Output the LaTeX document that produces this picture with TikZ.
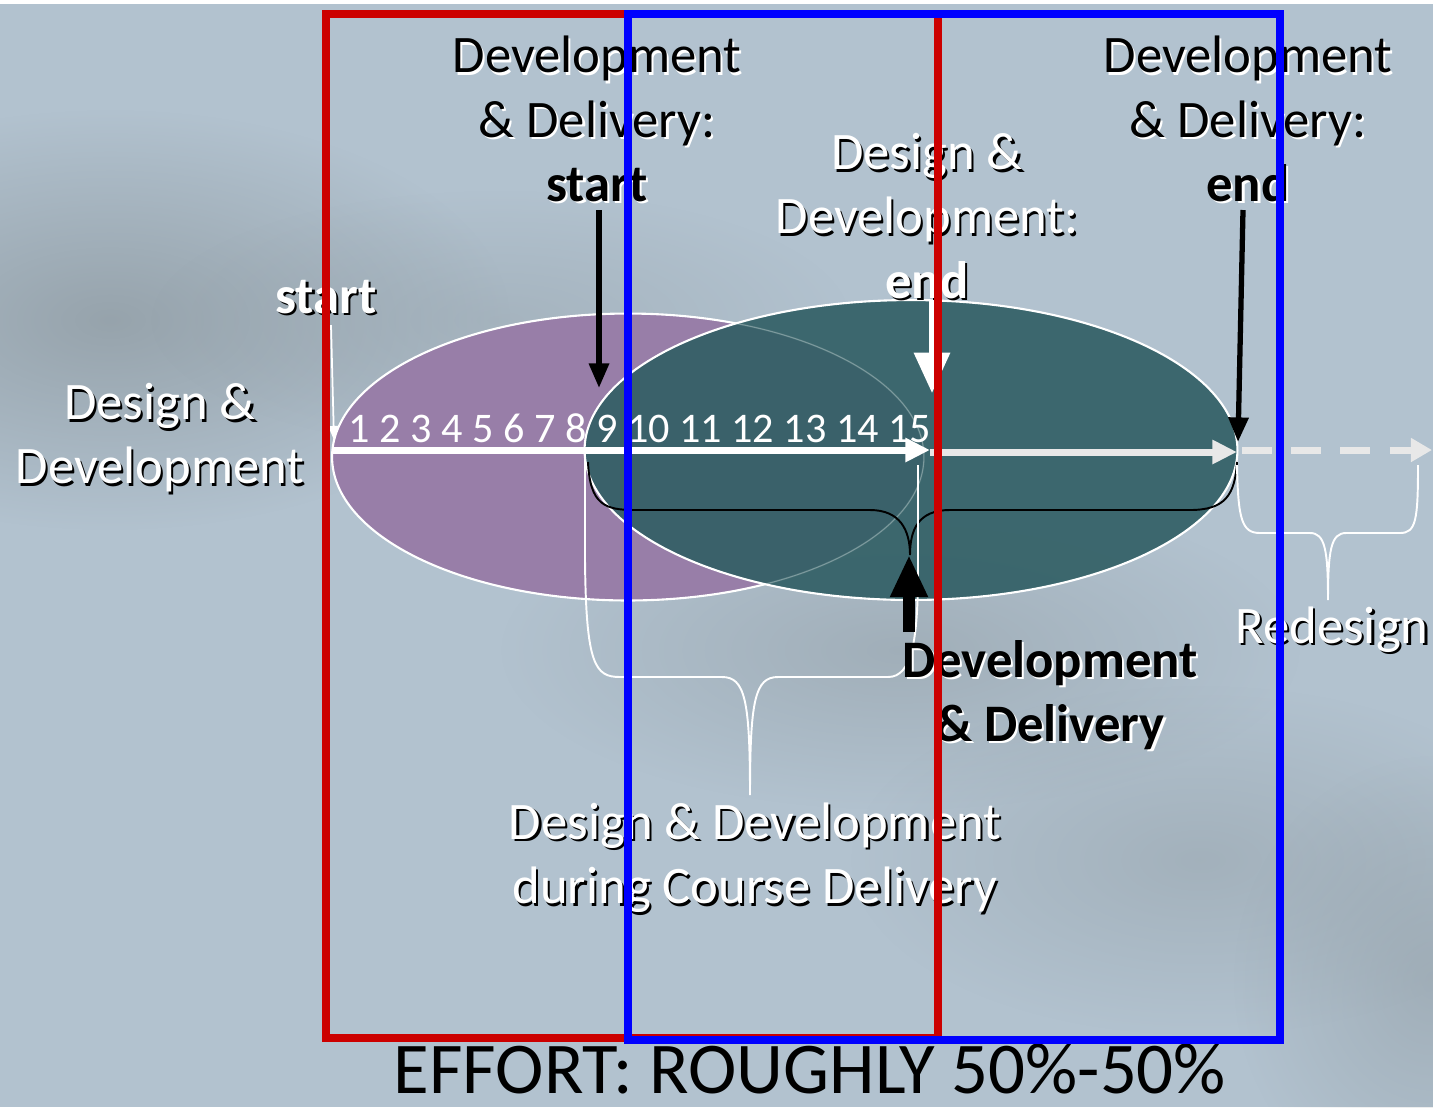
\documentclass[tikz,border=0pt]{standalone}
\usepackage{fontspec}
\setmainfont{Carlito}
\usetikzlibrary{arrows.meta,calc,fadings}
\definecolor{bgc}{RGB}{178,194,207}
\definecolor{smudge}{RGB}{128,138,143}
\definecolor{purp}{RGB}{152,126,168}
\definecolor{teal1}{RGB}{48,94,100}
\definecolor{lgray}{RGB}{232,232,232}
\definecolor{rline}{RGB}{204,0,0}
\definecolor{bline}{RGB}{0,0,255}
\tikzfading[name=fuzzyb, inner color=transparent!0, outer color=transparent!100]
\tikzset{
  lbl/.style={font=\fontsize{30}{36.5}\selectfont, align=center, inner sep=0pt},
  nums/.style={font=\fontsize{24}{28}\selectfont, inner sep=0pt, text=white},
  bigtxt/.style={font=\fontsize{41.5}{48}\selectfont, inner sep=0pt, text=black},
  blob/.style={fill=smudge, path fading=fuzzyb},
  brace/.style={line width=1.1pt},
  whitearrow/.style={white, line width=4pt, -{Triangle[length=14pt,width=13pt]}},
  blackarrow/.style={black, line width=3pt, -{Triangle[length=14pt,width=11pt]}},
  frame/.style={line width=5pt, line join=miter}
}
\newcommand\shtxt[5]{%
  \node[lbl, text=#4] (#1-s) at ($(#2)+(2.2,2.2)$) {#5};
  \node[lbl, text=#3] (#1) at (#2) {#5};
}
\begin{document}
\begin{tikzpicture}[x=0.02cm, y=-0.02cm]
% background
\fill[bgc] (0,0) rectangle (1433,1107);
\useasboundingbox (0,0) rectangle (1433,1107);
\fill[blob, opacity=0.55] (110,320) ellipse [x radius=8cm, y radius=4.2cm];
\fill[blob, opacity=0.25] (500,320) ellipse [x radius=7cm, y radius=2.6cm];
\fill[blob, opacity=0.35] (900,650) ellipse [x radius=8cm, y radius=3.2cm];
\fill[blob, opacity=0.3] (1200,860) ellipse [x radius=7cm, y radius=3.5cm];
\fill[blob, opacity=0.35] (1433,980) ellipse [x radius=4cm, y radius=4.5cm];
\fill[white] (0,0) rectangle (1433,4);

% ellipses
\fill[purp, draw=white, line width=1.2pt] (628,457) ellipse [x radius=5.92cm, y radius=2.87cm];
\fill[teal1, fill opacity=0.9, draw=white, line width=1.2pt] (911,450) ellipse [x radius=6.53cm, y radius=3.0cm];
\draw[white, opacity=0.3, line width=0.6pt] (628,457) ellipse [x radius=5.92cm, y radius=2.87cm];

% numbers
\node[nums] (numbers) at (640,428) {1 2 3 4 5 6 7 8 9 10 11 12 13 14 15};

% braces
\coordinate (bkL) at (588,462);
\coordinate (bkTip) at (910,555);
\coordinate (bkR) at (1237,462);
\draw[brace, black] (bkL) .. controls (590,505) and (605,510) .. (635,510) -- (870,510)
   .. controls (900,510) and (910,530) .. (bkTip)
   .. controls (910,530) and (918,510) .. (950,510) -- (1190,510)
   .. controls (1225,510) and (1235,495) .. (bkR);
\coordinate (wbL) at (585,460);
\coordinate (wbTip) at (750,795);
\coordinate (wbR) at (918,465);
\draw[brace, white] (wbL) -- (585,560) .. controls (586,665) and (595,677) .. (620,677) -- (722,677)
   .. controls (745,677) and (750,700) .. (wbTip)
   .. controls (750,700) and (755,677) .. (778,677) -- (888,677)
   .. controls (912,677) and (918,640) .. (918,570) -- (wbR);
\coordinate (rbL) at (1237,465);
\coordinate (rbTip) at (1328,600);
\coordinate (rbR) at (1418,465);
\draw[brace, white] (rbL) .. controls (1238,520) and (1242,533) .. (1260,533) -- (1310,533)
   .. controls (1325,533) and (1328,550) .. (rbTip)
   .. controls (1328,550) and (1331,533) .. (1346,533) -- (1400,533)
   .. controls (1416,533) and (1418,520) .. (rbR);

% axis arrows
\coordinate (ax0) at (333,450);
\coordinate (ax1) at (930,450);
\coordinate (ax1b) at (930,452);
\coordinate (ax2) at (1237,452);
\coordinate (ax2b) at (1242,450);
\coordinate (ax3) at (1432,450);
\draw[whitearrow] (ax0) -- (ax1);
\draw[whitearrow, lgray] (ax1b) -- (ax2);
\draw[lgray, line width=4pt, dash pattern=on 17pt off 11pt, -{Triangle[length=12pt,width=13pt]}] (ax2b) -- (ax3);

% texts
\shtxt{dd}{160,438}{white}{black}{Design \&\\Development}
\shtxt{st}{326,297}{white}{black}{\textbf{start}}
\shtxt{ddstart}{597,119}{black}{white}{Development\\\& Delivery:\\\textbf{start}}
\shtxt{dend}{927,216}{white}{black}{Design \&\\Development:\\\textbf{end}}
\shtxt{ddend}{1248,119}{black}{white}{Development\\\& Delivery:\\\textbf{end}}
\shtxt{ddel}{1050,695}{black}{white}{\textbf{Development}\\\textbf{\& Delivery}}
\shtxt{redes}{1332,630}{white}{black}{Redesign}
\shtxt{during}{755,858}{white}{black}{Design \& Development\\during Course Delivery}
\node[bigtxt] (effort) at (810,1069) {EFFORT: ROUGHLY 50\%-50\%};

% pointer arrows
\coordinate (pS0) at (599,210);
\coordinate (pS1) at (599,388);
\draw[blackarrow] (pS0) -- (pS1);
\coordinate (pE0) at (1243,210);
\coordinate (pE1) at (1238,442);
\draw[blackarrow] (pE0) -- (pE1);
\coordinate (pW0) at (932,300);
\coordinate (pW1) at (932,393);
\draw[white, line width=3.5pt, -{Triangle[length=23pt,width=20pt]}] (pW0) -- (pW1);
\coordinate (pL0) at (331,325);
\coordinate (pL1) at (334,440);
\draw[white, line width=1pt, -{Triangle[length=8pt,width=6pt]}] (pL0) -- (pL1);
\coordinate (pU0) at (909,632);
\coordinate (pU1) at (909,555);
\draw[black, line width=7pt, -{Triangle[length=24pt,width=20pt]}] (pU0) -- (pU1);

% frames
\draw[frame, rline] (326,14) rectangle (938,1038);
\draw[frame, bline] (628,14) rectangle (1280,1040);
\end{tikzpicture}
\end{document}
